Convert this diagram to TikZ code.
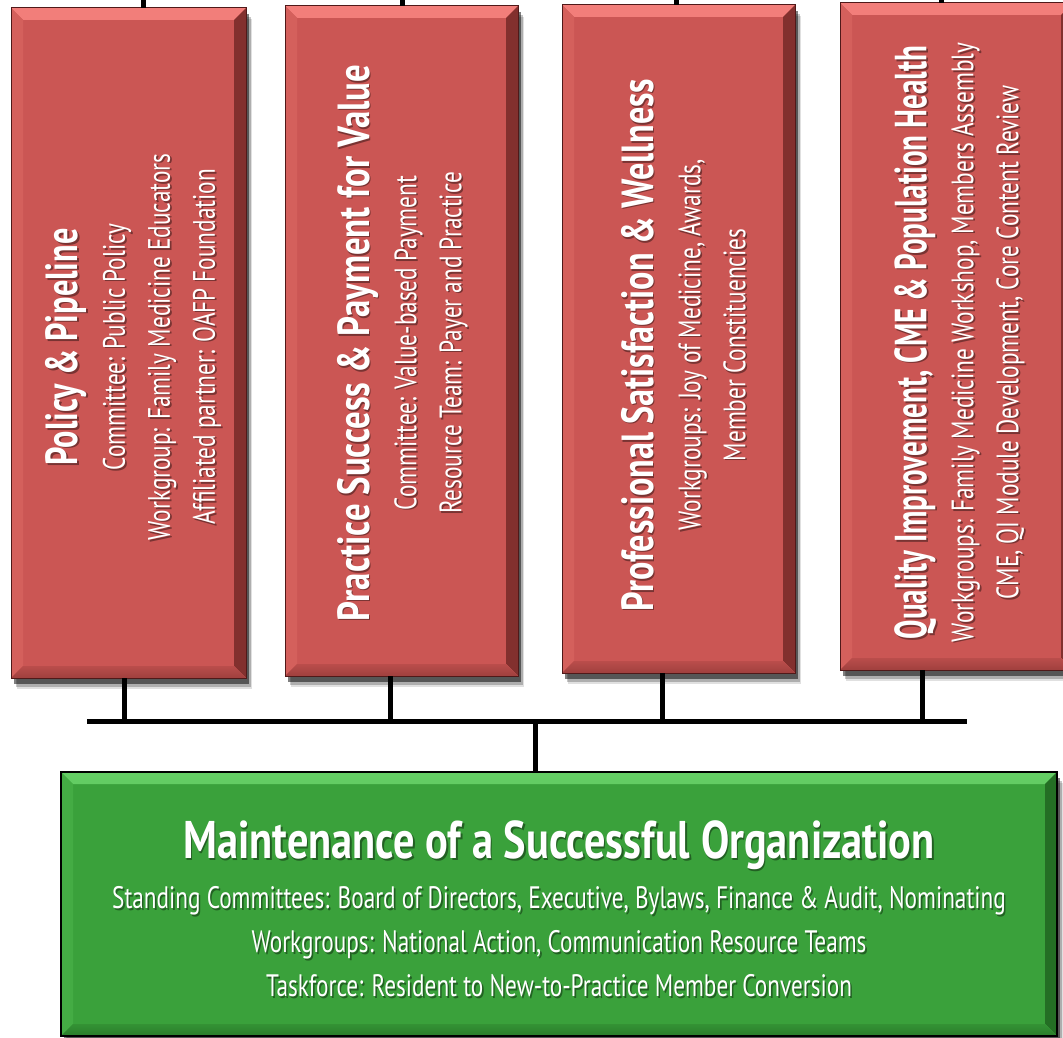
\documentclass[tikz,border=0pt]{standalone}
\usepackage{fontspec}
\usepackage{graphicx}
\setmainfont[FakeStretch=0.75]{PT Sans}
\usetikzlibrary{shadows,calc}
\definecolor{redmain}{RGB}{203,86,84}
\definecolor{redtop}{RGB}{242,126,122}
\definecolor{redleft}{RGB}{212,96,92}
\definecolor{redright}{RGB}{130,48,46}
\definecolor{redbot}{RGB}{160,64,62}
\definecolor{redborder}{RGB}{80,25,25}
\definecolor{grmain}{RGB}{58,161,59}
\definecolor{grtop}{RGB}{100,205,100}
\definecolor{grleft}{RGB}{68,172,68}
\definecolor{grright}{RGB}{36,110,36}
\definecolor{grbot}{RGB}{42,124,42}
\newcommand{\redtitle}[2]{{\fontsize{45}{50}\selectfont\bfseries\scalebox{#1}[1]{#2}}}
\newcommand{\grtitle}[1]{{\fontsize{53}{60}\selectfont\bfseries\scalebox{1.065}[1]{#1}}}
\newcommand{\labelnode}[4]{%
  \node[#1,text=black,text opacity=0.4] (#2s) at ([xshift=1.6pt,yshift=-1.6pt]#3) {#4};
  \node[#1] (#2) at (#3) {#4};}
\tikzset{
  bevel/.style args={#1/#2/#3/#4/#5}{path picture={
    \fill[top color=#1,bottom color=#1!40!#5]
      (path picture bounding box.north west) -- (path picture bounding box.north east)
      -- ([xshift=-12pt,yshift=-12pt]path picture bounding box.north east)
      -- ([xshift=12pt,yshift=-12pt]path picture bounding box.north west) -- cycle;
    \fill[#2]
      (path picture bounding box.north west) -- ([xshift=12pt,yshift=-12pt]path picture bounding box.north west)
      -- ([xshift=12pt,yshift=12pt]path picture bounding box.south west)
      -- (path picture bounding box.south west) -- cycle;
    \fill[#3]
      (path picture bounding box.north east) -- ([xshift=-12pt,yshift=-12pt]path picture bounding box.north east)
      -- ([xshift=-12pt,yshift=12pt]path picture bounding box.south east)
      -- (path picture bounding box.south east) -- cycle;
    \fill[top color=#5!60!#4,bottom color=#4]
      (path picture bounding box.south west) -- (path picture bounding box.south east)
      -- ([xshift=-12pt,yshift=12pt]path picture bounding box.south east)
      -- ([xshift=12pt,yshift=12pt]path picture bounding box.south west) -- cycle;
  }},
  softshadow/.style={
    drop shadow={shadow xshift=6pt,shadow yshift=-11pt,opacity=0.12,fill=black},
    drop shadow={shadow xshift=5pt,shadow yshift=-9pt,opacity=0.22,fill=black},
    drop shadow={shadow xshift=3pt,shadow yshift=-6pt,opacity=0.5,fill=black}},
  redbox/.style={rectangle,inner sep=0pt,outer sep=0pt,fill=redmain,draw=redborder,
    line width=1pt,softshadow,bevel={redtop/redleft/redright/redbot/redmain}},
  greenbox/.style={rectangle,inner sep=0pt,outer sep=0pt,fill=grmain,draw=black,
    line width=1.5pt,softshadow,bevel={grtop/grleft/grright/grbot/grmain}},
  boxtext/.style={text=white,align=center,inner sep=0pt,font=\fontsize{31}{44}\selectfont},
  vtext/.style={boxtext,rotate=90,font=\fontsize{31}{45}\selectfont},
  conn/.style={draw=black,line width=5pt}
}
\begin{document}
\begin{tikzpicture}[x=1pt,y=-1pt]
\useasboundingbox (0,0) rectangle (1063,1038);
\fill[white] (0,0) rectangle (1063,1038);
% boxes
\node[redbox,minimum width=235pt,minimum height=670pt] (b1) at (128.5,343) {};
\node[redbox,minimum width=233pt,minimum height=670pt] (b2) at (401.5,341) {};
\node[redbox,minimum width=233pt,minimum height=668pt] (b3) at (678.5,339) {};
\node[redbox,minimum width=233pt,minimum height=667pt] (b4) at (956.5,336.5) {};
\node[greenbox,minimum width=996pt,minimum height=264pt] (g) at (559,904) {};
% connectors
\coordinate (topedge) at (0,-6);
\coordinate (barL) at (87,721);
\coordinate (barR) at (967,721);
\draw[conn] ([xshift=14.5pt]b1.north) -- ([xshift=14.5pt]b1.north |- topedge);
\draw[conn] ([xshift=0.5pt]b2.north) -- ([xshift=0.5pt]b2.north |- topedge);
\draw[conn] ([xshift=-2.5pt]b3.north) -- ([xshift=-2.5pt]b3.north |- topedge);
\draw[conn] ([xshift=-15.5pt]b4.north) -- ([xshift=-15.5pt]b4.north |- topedge);
\draw[conn] (barL) -- (barR);
\draw[conn] ([xshift=-4.5pt]b1.south) -- ([xshift=-4.5pt]b1.south |- barL);
\draw[conn] ([xshift=-11.5pt]b2.south) -- ([xshift=-11.5pt]b2.south |- barL);
\draw[conn] ([xshift=-16.5pt]b3.south) -- ([xshift=-16.5pt]b3.south |- barL);
\draw[conn] ([xshift=-34.5pt]b4.south) -- ([xshift=-34.5pt]b4.south |- barL);
\draw[conn] ([xshift=-24pt]g.north) -- ([xshift=-24pt]g.north |- barL);
% texts
\coordinate (c1) at ([xshift=5pt,yshift=-4pt]b1.center);
\coordinate (c2) at ([xshift=1pt,yshift=-2pt]b2.center);
\coordinate (c3) at ([xshift=5pt,yshift=-6pt]b3.center);
\coordinate (c4) at ([xshift=3pt,yshift=-6pt]b4.center);
\coordinate (cg) at ([yshift=-5pt]g.center);
\labelnode{vtext}{t1}{c1}{\redtitle{0.955}{Policy \& Pipeline}\\[2pt]
  Committee: Public Policy\\ Workgroup: Family Medicine Educators\\ Affiliated partner: OAFP Foundation}
\labelnode{vtext}{t2}{c2}{\redtitle{1.03}{Practice Success \& Payment for Value}\\[2pt]
  Committee: Value-based Payment\\ Resource Team: Payer and Practice}
\labelnode{vtext}{t3}{c3}{\redtitle{1.01}{Professional Satisfaction \& Wellness}\\[2pt]
  Workgroups: Joy of Medicine, Awards,\\ Member Constituencies}
\labelnode{vtext}{t4}{c4}{\redtitle{0.86}{Quality Improvement, CME \& Population Health}\\[2pt]
  Workgroups: Family Medicine Workshop, Members Assembly\\ CME, QI Module Development, Core Content Review}
\labelnode{boxtext}{tg}{cg}{\grtitle{Maintenance of a Successful Organization}\\[6pt]
  Standing Committees: Board of Directors, Executive, Bylaws, Finance \& Audit, Nominating\\
  Workgroups: National Action, Communication Resource Teams\\
  Taskforce: Resident to New-to-Practice Member Conversion}
\end{tikzpicture}
\end{document}
